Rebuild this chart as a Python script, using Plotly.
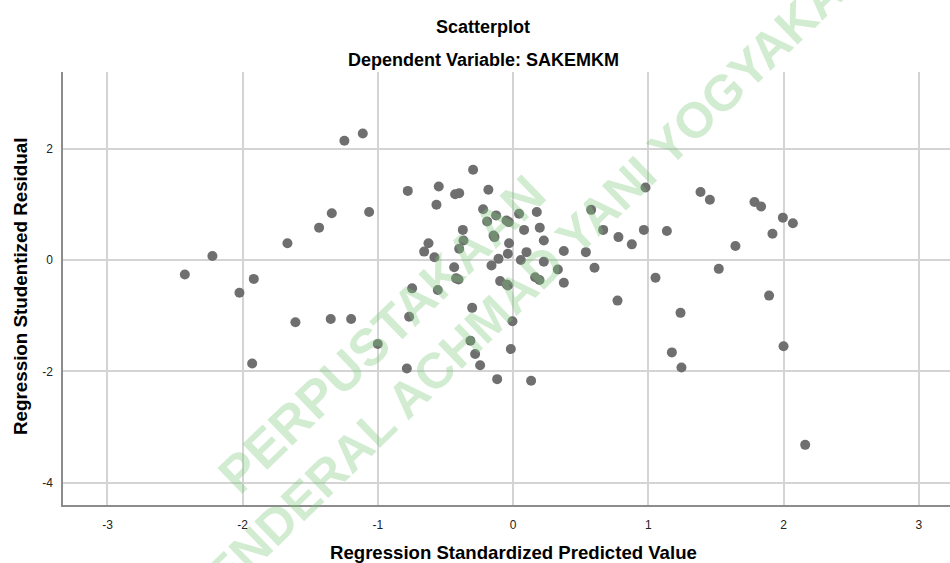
import plotly.graph_objects as go

# Regression standardized predicted value (x) and studentized residual (y)
pred = [-2.428, -2.224, -2.024, -1.918, -1.930, -1.669, -1.610, -1.435, -1.341, -1.349,
        -1.198, -1.248, -1.112, -1.065, -1.001, -0.779, -0.550, -0.567, -0.626, -0.658,
        -0.582, -0.747, -0.557, -0.769, -0.786, -0.296, -0.183, -0.429, -0.399, -0.222,
        -0.126, -0.192, -0.049, -0.032, 0.044, 0.175, 0.577, -0.372, -0.367, -0.399,
        -0.145, -0.138, 0.081, 0.197, 0.227, -0.030, -0.039, -0.108, 0.099, 0.057,
        0.227, 0.375, 0.538, 0.331, 0.602, -0.436, -0.160, -0.422, -0.404, -0.096,
        -0.047, -0.039, 0.163, 0.195, 0.375, -0.303, 0.666, 0.779, 0.878, 0.772,
        0.979, 1.386, 1.455, 1.785, 1.834, 1.995, 2.069, 1.918, 1.644, 0.967,
        1.137, 1.053, 1.521, 1.893, 1.238, 1.174, 1.245, 2.000, 2.160, -0.005,
        -0.316, -0.281, -0.244, -0.017, -0.118, 0.133]
resid = [-0.26, 0.07, -0.59, -0.34, -1.86, 0.30, -1.12, 0.58, 0.84, -1.06,
         -1.06, 2.14, 2.27, 0.86, -1.51, 1.24, 1.32, 0.99, 0.30, 0.15,
         0.05, -0.51, -0.54, -1.02, -1.95, 1.62, 1.26, 1.18, 1.20, 0.91,
         0.80, 0.69, 0.71, 0.68, 0.83, 0.86, 0.90, 0.54, 0.35, 0.20,
         0.44, 0.41, 0.54, 0.58, 0.35, 0.30, 0.11, 0.02, 0.14, 0.00,
         -0.03, 0.16, 0.14, -0.17, -0.14, -0.13, -0.10, -0.33, -0.35, -0.38,
         -0.44, -0.46, -0.31, -0.36, -0.41, -0.86, 0.54, 0.41, 0.28, -0.73,
         1.30, 1.22, 1.08, 1.04, 0.96, 0.76, 0.66, 0.47, 0.25, 0.54,
         0.52, -0.32, -0.16, -0.64, -0.95, -1.66, -1.93, -1.55, -3.32, -1.10,
         -1.45, -1.69, -1.89, -1.60, -2.14, -2.17]

x_ticks = [-3, -2, -1, 0, 1, 2, 3]
y_ticks = [-4, -2, 0, 2]

title_text = "Scatterplot"
subtitle_text = "Dependent Variable: SAKEMKM"
x_title = "Regression Standardized Predicted Value"
y_title = "Regression Studentized Residual"
watermark_1 = "PERPUSTAKAAN"
watermark_2 = "JENDERAL ACHMAD YANI YOGYAKARTA"

FONT = "Liberation Sans, Arial, sans-serif"

fig = go.Figure()
fig.add_trace(go.Scatter(
    x=pred, y=resid, mode="markers",
    marker=dict(size=10, color="#6f6f6f", line=dict(width=0)),
    hoverinfo="x+y", showlegend=False,
))

W, H = 950, 563
L, R, T, B = 63, 0, 72, 58

fig.update_layout(
    width=W, height=H,
    margin=dict(l=L, r=R, t=T, b=B),
    paper_bgcolor="white", plot_bgcolor="white",
    font=dict(family=FONT, color="#222222", size=12),
    showlegend=False,
)
fig.update_xaxes(
    range=[-3.329, 3.231], tickvals=x_ticks, ticktext=[str(v) for v in x_ticks],
    showgrid=True, gridcolor="#d4d4d4", gridwidth=1.5,
    zeroline=False, showline=True, linecolor="#8c8c8c", linewidth=1.5,
    ticks="", ticklabelstandoff=8, automargin=False,
    tickfont=dict(family=FONT, size=12, color="#222222"),
)
fig.update_yaxes(
    range=[-4.40, 3.375], tickvals=y_ticks, ticktext=[str(v) for v in y_ticks],
    showgrid=True, gridcolor="#d4d4d4", gridwidth=1.5,
    zeroline=False, showline=True, linecolor="#8c8c8c", linewidth=1.5,
    ticks="", ticklabelstandoff=6, automargin=False,
    tickfont=dict(family=FONT, size=12, color="#222222"),
)

WM = "rgba(120,200,120,0.34)"
# (text, page x, page y, angle, size, colour)
annos = [
    dict(text="<b>" + watermark_1 + "</b>", x=382, y=334, textangle=-44,
         font=dict(family=FONT, size=52, color=WM)),
    dict(text="<b>" + watermark_2 + "</b>", x=550, y=260, textangle=-44,
         font=dict(family=FONT, size=50, color=WM)),
    dict(text="<b>" + title_text + "</b>", x=483, y=27,
         font=dict(family=FONT, size=18, color="#000000")),
    dict(text="<b>" + subtitle_text + "</b>", x=483, y=60,
         font=dict(family=FONT, size=18, color="#000000")),
    dict(text="<b>" + x_title + "</b>", x=513, y=552,
         font=dict(family=FONT, size=18.6, color="#000000")),
    dict(text="<b>" + y_title + "</b>", x=20, y=287, textangle=-90,
         font=dict(family=FONT, size=18.8, color="#000000")),
]
for a in annos:
    a.update(xref="paper", yref="paper", showarrow=False,
             xanchor="center", yanchor="middle")
    # page pixel coords -> paper coords relative to the plot area
    a["x"] = (a["x"] - L) / (W - L - R)
    a["y"] = ((H - a["y"]) - B) / (H - T - B)
fig.update_layout(annotations=annos)

fig.write_html("out.html", config={"displayModeBar": False},
               post_script="document.body.style.margin='0';")
